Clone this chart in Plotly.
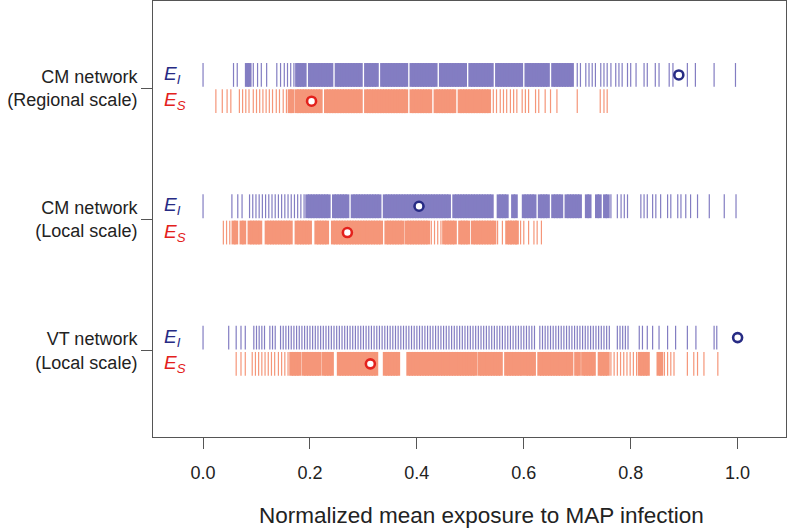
import plotly.graph_objects as go

# ---------------- data ----------------
groups = ["VT network<br>(Local scale)", "CM network<br>(Local scale)", "CM network<br>(Regional scale)"]
group_pos = [1, 2, 3]
x_ticks = [0.0, 0.2, 0.4, 0.6, 0.8, 1.0]
x_tick_text = ["0.0", "0.2", "0.4", "0.6", "0.8", "1.0"]
x_title = "Normalized mean exposure to MAP infection"

# CM network, regional scale
cm_reg_EI = [0.000, 0.057, 0.064, 0.082, 0.087, 0.094, 0.102, 0.109, 0.119,
             0.138, 0.145, 0.152, 0.158, 0.164, 0.170, 0.176,
             0.180, 0.185, 0.190, 0.200, 0.205, 0.210, 0.215, 0.220, 0.225, 0.230, 0.235, 0.240,
             0.250, 0.255, 0.260, 0.265, 0.270, 0.275, 0.280, 0.285, 0.290, 0.295, 0.305, 0.310,
             0.315, 0.320, 0.325, 0.335, 0.340, 0.345, 0.350, 0.355, 0.360, 0.365, 0.370, 0.375,
             0.380, 0.390, 0.395, 0.400, 0.405, 0.410, 0.415, 0.420, 0.425, 0.430, 0.435, 0.445,
             0.450, 0.455, 0.460, 0.465, 0.470, 0.475, 0.480, 0.485, 0.490, 0.500, 0.505, 0.510,
             0.515, 0.520, 0.525, 0.530, 0.535, 0.540, 0.550, 0.555, 0.560, 0.565, 0.570, 0.575,
             0.580, 0.585, 0.590, 0.595, 0.605, 0.610, 0.615, 0.620, 0.625, 0.630, 0.635, 0.640,
             0.645, 0.655, 0.660, 0.665, 0.670, 0.675, 0.680, 0.685, 0.690,
             0.700, 0.706, 0.716, 0.722, 0.728, 0.734, 0.744, 0.750, 0.756, 0.763, 0.772, 0.778,
             0.784, 0.794, 0.800, 0.810,
             0.825, 0.831, 0.846, 0.853, 0.872, 0.879, 0.906, 0.921, 0.956, 0.996]
cm_reg_ES = [0.024, 0.036, 0.045, 0.052, 0.068, 0.074, 0.080, 0.086, 0.094, 0.100, 0.106,
             0.112, 0.118, 0.124, 0.130, 0.137, 0.143, 0.150, 0.156,
             0.162, 0.167, 0.175, 0.180, 0.185, 0.190, 0.195, 0.200, 0.205, 0.210, 0.215, 0.220,
             0.230, 0.235, 0.240, 0.245, 0.250, 0.255, 0.260, 0.265, 0.270, 0.275, 0.280, 0.285,
             0.290, 0.295, 0.305, 0.310, 0.315, 0.320, 0.325, 0.330, 0.335, 0.340, 0.345, 0.350,
             0.355, 0.360, 0.365, 0.370, 0.375, 0.380, 0.390, 0.395, 0.400, 0.405, 0.410, 0.415,
             0.420, 0.425, 0.435, 0.440, 0.445, 0.450, 0.455, 0.460, 0.465, 0.470, 0.480, 0.485,
             0.490, 0.495, 0.500, 0.505, 0.510, 0.515, 0.520, 0.525, 0.530, 0.535,
             0.543, 0.549, 0.556, 0.562, 0.568, 0.575, 0.581, 0.587,
             0.597, 0.603, 0.609, 0.622, 0.628, 0.640, 0.650, 0.662, 0.700, 0.743, 0.750, 0.756]

# CM network, local scale
cm_loc_EI = [0.000, 0.054, 0.065, 0.073, 0.087, 0.093, 0.099, 0.105, 0.111, 0.117, 0.123,
             0.129, 0.135, 0.141, 0.147,
             0.153, 0.159, 0.165, 0.171, 0.177, 0.183, 0.189,
             0.195, 0.200, 0.205, 0.210, 0.215, 0.220, 0.225, 0.230, 0.235, 0.245, 0.250, 0.255,
             0.260, 0.265, 0.270, 0.280, 0.285, 0.290, 0.295, 0.300, 0.305, 0.310, 0.315, 0.320,
             0.325, 0.330, 0.340, 0.345, 0.350, 0.355, 0.360, 0.365, 0.370, 0.375, 0.380, 0.385,
             0.390, 0.395, 0.400, 0.405, 0.410, 0.415, 0.420, 0.425, 0.430, 0.435, 0.440, 0.445,
             0.450, 0.455, 0.460, 0.470, 0.475, 0.480, 0.485, 0.490, 0.495, 0.500, 0.505, 0.510,
             0.515, 0.520, 0.525, 0.530, 0.535, 0.540, 0.553, 0.558, 0.563, 0.568, 0.580, 0.585,
             0.600, 0.605, 0.610, 0.615, 0.620, 0.630, 0.635, 0.640, 0.645, 0.655, 0.660, 0.665,
             0.670, 0.680, 0.685, 0.690, 0.695, 0.700, 0.705, 0.718, 0.723, 0.737, 0.742, 0.752,
             0.757, 0.763,
             0.775, 0.782, 0.788, 0.794, 0.819, 0.825, 0.831, 0.841, 0.847, 0.856, 0.869, 0.875,
             0.888, 0.894, 0.903, 0.912, 0.925, 0.947, 0.975, 0.997]
cm_loc_ES = [0.038, 0.044, 0.050,
             0.057, 0.062, 0.072, 0.077, 0.087, 0.092, 0.097, 0.102, 0.107, 0.119, 0.124, 0.129,
             0.134, 0.139, 0.144, 0.149, 0.154, 0.159, 0.164, 0.175, 0.180, 0.185, 0.190, 0.195,
             0.200, 0.212, 0.217, 0.222, 0.227, 0.232, 0.243, 0.248, 0.253, 0.258, 0.263, 0.268,
             0.273, 0.278, 0.283, 0.288, 0.293, 0.298, 0.303, 0.308, 0.313, 0.318, 0.323, 0.328,
             0.333, 0.343, 0.348, 0.353, 0.358, 0.363, 0.368, 0.373, 0.381, 0.386, 0.391, 0.396,
             0.401, 0.406, 0.411, 0.416,
             0.421, 0.427, 0.433, 0.439, 0.445,
             0.451, 0.456, 0.461, 0.466, 0.471, 0.481, 0.486, 0.491, 0.496, 0.505, 0.510, 0.515,
             0.520, 0.525, 0.530, 0.535, 0.540, 0.545,
             0.551, 0.560, 0.569, 0.574, 0.578, 0.584, 0.587, 0.594, 0.600, 0.609, 0.619, 0.625, 0.633]

# VT network, local scale
vt_loc_EI = [0.000, 0.048, 0.062, 0.071, 0.079,
             0.095, 0.100, 0.105, 0.110, 0.115, 0.125, 0.130, 0.135, 0.145, 0.150, 0.155, 0.160,
             0.165, 0.170, 0.175, 0.180, 0.185, 0.190, 0.195, 0.200, 0.205, 0.210, 0.215, 0.220,
             0.225, 0.230, 0.235, 0.240, 0.245, 0.250, 0.255, 0.260, 0.265, 0.270, 0.275, 0.280,
             0.285, 0.290, 0.295, 0.300, 0.305, 0.310, 0.315, 0.320, 0.325, 0.330, 0.335, 0.340,
             0.345, 0.350, 0.355, 0.360, 0.365, 0.370, 0.375, 0.380, 0.385, 0.390, 0.395, 0.400,
             0.405, 0.410, 0.415, 0.420, 0.425, 0.430, 0.435, 0.440, 0.445, 0.450, 0.455, 0.460,
             0.465, 0.470, 0.475, 0.480, 0.485, 0.490, 0.495, 0.500, 0.505, 0.510, 0.515, 0.520,
             0.525, 0.530, 0.535, 0.540, 0.545, 0.550, 0.555, 0.560, 0.565, 0.570, 0.575, 0.580,
             0.585, 0.590, 0.595, 0.600, 0.605, 0.610, 0.615, 0.620, 0.630, 0.635, 0.640, 0.645,
             0.650, 0.655, 0.660, 0.665, 0.670, 0.675, 0.680, 0.685, 0.690, 0.695, 0.700, 0.705,
             0.710, 0.715, 0.720, 0.725, 0.730, 0.735, 0.740, 0.745, 0.750, 0.755, 0.760, 0.775,
             0.780, 0.785, 0.790, 0.795,
             0.816, 0.822, 0.831, 0.841, 0.853, 0.869, 0.884, 0.906, 0.922, 0.956, 0.961]
vt_loc_ES = [0.062, 0.071, 0.079, 0.092, 0.098, 0.104, 0.110, 0.116, 0.122, 0.128, 0.134,
             0.141, 0.147, 0.153, 0.159,
             0.165, 0.170, 0.175, 0.180, 0.188, 0.193, 0.198, 0.203, 0.208, 0.213, 0.218, 0.226,
             0.231, 0.236, 0.241, 0.254, 0.259, 0.264, 0.269, 0.274, 0.279, 0.284, 0.289, 0.294,
             0.299, 0.304, 0.309, 0.314, 0.319, 0.324, 0.340, 0.345, 0.350, 0.355, 0.360, 0.365,
             0.384, 0.389, 0.394, 0.399, 0.404, 0.409, 0.414, 0.419, 0.424, 0.429, 0.434, 0.439,
             0.444, 0.449, 0.454, 0.459, 0.464, 0.469, 0.474, 0.479, 0.484, 0.489, 0.494, 0.499,
             0.504, 0.509, 0.517, 0.522, 0.527, 0.532, 0.537, 0.542, 0.547, 0.552, 0.557, 0.567,
             0.572, 0.577, 0.582, 0.587, 0.592, 0.597, 0.604, 0.609, 0.614, 0.619, 0.629, 0.634,
             0.639, 0.644, 0.649, 0.654, 0.659, 0.664, 0.669, 0.674, 0.679, 0.684, 0.689, 0.698,
             0.703, 0.711, 0.716, 0.721, 0.726, 0.731, 0.742, 0.747, 0.752, 0.757,
             0.763, 0.769, 0.775, 0.781, 0.787, 0.793, 0.799, 0.805, 0.811,
             0.817, 0.822, 0.827, 0.832, 0.852, 0.857,
             0.863, 0.869, 0.875, 0.881, 0.906, 0.918, 0.925, 0.937, 0.963]

# means (open circles), order: VT local, CM local, CM regional
mean_EI = [1.000, 0.404, 0.890]
mean_ES = [0.313, 0.270, 0.203]

EI_rows = [vt_loc_EI, cm_loc_EI, cm_reg_EI]
ES_rows = [vt_loc_ES, cm_loc_ES, cm_reg_ES]
EI_comb = [True, False, False]   # VT E_I row is drawn as thin comb lines

# ---------------- style ----------------
BLUE = "rgb(131,125,194)"
SALMON = "rgb(245,150,121)"
NAVY = "#272b84"
RED = "#e3211c"
FONT = "Liberation Sans, Arial, Helvetica, sans-serif"
FRAME = "#555555"
OFF = 0.1
THICK, THIN = 4.0, 1.2


def widths(vals, comb=False):
    out = []
    for i, v in enumerate(vals):
        d = min([abs(v - vals[j]) for j in (i - 1, i + 1) if 0 <= j < len(vals)] or [1])
        out.append(THIN if (comb or d > 0.0056) else THICK)
    return out


fig = go.Figure()
for g, vals, comb in zip(group_pos, EI_rows, EI_comb):
    fig.add_trace(go.Scatter(
        x=vals, y=[g + OFF] * len(vals), mode="markers", hoverinfo="skip",
        marker=dict(symbol="line-ns", size=17,
                    line=dict(color=BLUE, width=widths(vals, comb)))))
for g, vals in zip(group_pos, ES_rows):
    fig.add_trace(go.Scatter(
        x=vals, y=[g - OFF] * len(vals), mode="markers", hoverinfo="skip",
        marker=dict(symbol="line-ns", size=17,
                    line=dict(color=SALMON, width=widths(vals)))))

fig.add_trace(go.Scatter(
    x=mean_EI, y=[g + OFF for g in group_pos], mode="markers",
    marker=dict(symbol="circle", size=9, color="white", line=dict(color=NAVY, width=2.6))))
fig.add_trace(go.Scatter(
    x=mean_ES, y=[g - OFF for g in group_pos], mode="markers",
    marker=dict(symbol="circle", size=9, color="white", line=dict(color=RED, width=2.6))))

for g in group_pos:
    fig.add_annotation(x=-0.076, y=g + OFF, text="<i>E<sub>I</sub></i>", showarrow=False,
                       xanchor="left", yanchor="middle", font=dict(size=19, color=NAVY, family=FONT))
    fig.add_annotation(x=-0.076, y=g - OFF, text="<i>E<sub>S</sub></i>", showarrow=False,
                       xanchor="left", yanchor="middle", font=dict(size=19, color=RED, family=FONT))

# x-axis title
fig.add_annotation(xref="paper", yref="paper", x=0.519, y=-0.181, text=x_title, showarrow=False,
                   xanchor="center", yanchor="middle", font=dict(size=22.5, color="#222", family=FONT))

fig.update_layout(
    width=787, height=529, margin=dict(l=153, r=1, t=1, b=92),
    paper_bgcolor="white", plot_bgcolor="white", showlegend=False,
    font=dict(family=FONT, size=18, color="#222"),
    xaxis=dict(range=[-0.0936, 1.0905], tickvals=x_ticks, ticktext=x_tick_text,
               ticks="outside", ticklen=11, tickwidth=1, tickcolor=FRAME,
               ticklabelstandoff=8, automargin=False,
               showline=True, mirror=True, linecolor=FRAME, linewidth=1,
               showgrid=False, zeroline=False, tickfont=dict(size=18, color="#222")),
    yaxis=dict(range=[0.343, 3.663], tickvals=group_pos, ticktext=groups,
               ticks="outside", ticklen=11, tickwidth=1, tickcolor=FRAME, automargin=False,
               showline=True, mirror=True, linecolor=FRAME, linewidth=1,
               showgrid=False, zeroline=False, tickfont=dict(size=18, color="#222")),
)

fig.write_html("out.html", config={"displayModeBar": False},
               post_script="document.body.style.margin='0px';")
